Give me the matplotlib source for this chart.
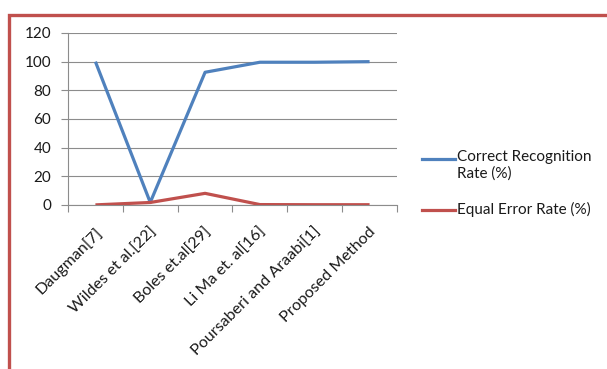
import matplotlib
matplotlib.use("Agg")
import matplotlib.pyplot as plt
from matplotlib.lines import Line2D
from matplotlib.patches import Rectangle
from matplotlib.transforms import ScaledTranslation
import numpy as np

methods = ["Daugman[7]", "Wildes et al.[22]", "Boles et.al[29]", "Li Ma et. al[16]",
           "Poursaberi and Araabi[1]", "Proposed Method"]
crr = [100, 1.8, 92.6, 99.6, 99.6, 100]
eer = [0.08, 1.76, 8.13, 0.29, 0.2, 0.2]
series_names = ["Correct Recognition\nRate (%)", "Equal Error Rate (%)"]
yticks = [0, 20, 40, 60, 80, 100, 120]

BLUE = "#4F81BD"
RED = "#C0504D"
GRID = "#8C8C8C"
TEXT = "#1a1a1a"
FS = 11

plt.rcParams["font.family"] = ["Lato", "DejaVu Sans"]
plt.rcParams["text.color"] = TEXT

fig = plt.figure(figsize=(6.07, 3.69), dpi=100)
fig.patch.set_facecolor("white")

# red frame around the chart area
fig.add_artist(Rectangle((9 / 607, -0.2), 1.2, (369 - 15) / 369 + 0.2,
                         transform=fig.transFigure, fill=False,
                         edgecolor=RED, linewidth=2.4, clip_on=False))

ax = fig.add_axes([68 / 607, 1 - 205 / 369, (397 - 68) / 607, (205 - 33) / 369])
x = np.arange(len(methods))
ax.plot(x, crr, color=BLUE, lw=2.3, solid_capstyle="butt", zorder=3)
ax.plot(x, eer, color=RED, lw=2.3, solid_capstyle="butt", zorder=3)

ax.set_xlim(-0.5, len(methods) - 0.5)
ax.set_ylim(0, 120)
ax.set_yticks(yticks)
ax.set_yticklabels([str(v) for v in yticks], fontsize=FS, color=TEXT)
ax.yaxis.grid(True, color=GRID, lw=0.8)
ax.set_axisbelow(True)
for side in ("top", "right"):
    ax.spines[side].set_visible(False)
for side in ("left", "bottom"):
    ax.spines[side].set_color(GRID)
    ax.spines[side].set_linewidth(0.8)
ax.tick_params(axis="y", length=5, color=GRID, width=0.8, pad=7)

ax.set_xticks(x)
ax.set_xticklabels(methods, rotation=45, ha="right", va="center",
                   rotation_mode="anchor", fontsize=11.6, color=TEXT)
ax.tick_params(axis="x", which="major", length=0, pad=18)
shift = ScaledTranslation(4 / 100, 0, fig.dpi_scale_trans)
for lbl in ax.get_xticklabels():
    lbl.set_transform(lbl.get_transform() + shift)
ax.set_xticks(np.arange(-0.5, len(methods), 1.0), minor=True)
ax.tick_params(axis="x", which="minor", length=5, color=GRID, width=0.8)

# legend
def legend_entry(y_line, color, label):
    fig.add_artist(Line2D([422 / 607, 455 / 607], [1 - y_line / 369] * 2,
                          transform=fig.transFigure, color=color, lw=2.3))
    fig.text(457 / 607, 1 - (y_line - 8.5) / 369, label, fontsize=FS,
             ha="left", va="top", linespacing=1.2)

legend_entry(159, BLUE, series_names[0])
legend_entry(210, RED, series_names[1])

fig.savefig("out.png", dpi=100, facecolor="white")
